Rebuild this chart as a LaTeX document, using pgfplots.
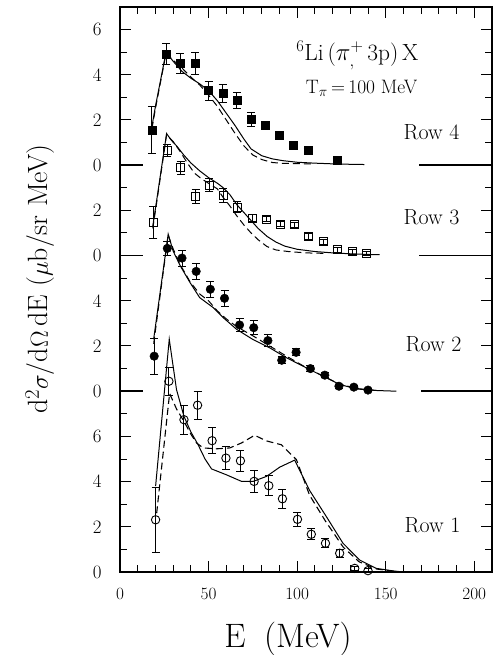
\documentclass[border=0pt]{standalone}
\usepackage{pgfplots}
\usepackage{pgfplotstable}
\pgfplotsset{compat=1.18}

% ---------- data (values per row, offsets added when plotting) ----------
% Row 4 (offset 18) filled squares
\pgfplotstableread{
E v e
18 1.55 1.05
26 4.92 0.48
34 4.50 0.45
42.5 4.50 0.48
50 3.30 0.42
58 3.18 0.40
66 2.87 0.36
74 2.02 0.30
82 1.79 0.12
90 1.31 0.10
98 0.90 0.10
106 0.65 0.08
122.5 0.20 0.08
}\rowfour
\pgfplotstableread{
E v
18 1.7
20 2.6
26 5.0
30 4.6
35 4.15
40 3.85
45 3.6
50 3.3
55 2.85
60 2.3
65 1.75
70 1.15
74 0.72
80 0.42
86 0.28
92 0.2
100 0.13
110 0.09
120 0.06
130 0.04
138 0.03
}\rowfourS
\pgfplotstableread{
E v
18 1.6
20 2.5
26 4.95
30 4.65
35 4.3
40 3.9
45 3.55
50 3.1
55 2.6
60 2.0
65 1.4
70 0.85
75 0.45
80 0.25
86 0.12
92 0.08
100 0.07
110 0.05
}\rowfourD
% Row 3 (offset 14) open squares
\pgfplotstableread{
E v e
18.8 1.47 0.70
26.7 4.65 0.25
34.2 3.88 0.30
42.7 2.62 0.30
50.4 3.12 0.30
58.3 2.65 0.30
66.1 2.14 0.25
74.8 1.66 0.15
82.7 1.62 0.12
90.6 1.39 0.12
98.6 1.36 0.12
106.5 0.85 0.12
115 0.61 0.10
123 0.25 0.10
131 0.17 0.10
139 0.10 0.10
}\rowthree
\pgfplotstableread{
E v
18.5 1.3
21 2.6
26.3 5.4
29 5.1
32 4.85
36 4.45
40 4.1
45 3.75
50 3.45
55 3.2
58 3.02
62 2.7
66 2.25
70 1.9
74 1.55
78 1.2
83 0.85
88 0.6
93 0.42
100 0.28
110 0.18
120 0.12
130 0.08
140 0.05
146.5 0.04
}\rowthreeS
\pgfplotstableread{
E v
18.5 1.2
21 2.5
26.3 5.35
30 5.05
34 4.6
38 4.1
42 3.65
46 3.4
50 3.2
55 2.95
58 2.6
62 2.2
66 1.75
70 1.35
74 1.0
78 0.7
83 0.4
88 0.25
95 0.18
105 0.12
115 0.1
}\rowthreeD
% Row 2 (offset 8) filled circles
\pgfplotstableread{
E v e
19.3 1.55 0.80
26.7 6.32 0.30
35 5.89 0.35
43 5.30 0.37
51 4.51 0.35
59 4.11 0.35
67.5 2.93 0.30
75.5 2.81 0.30
83.5 2.24 0.25
91.3 1.37 0.15
99.4 1.72 0.15
107.5 1.0 0.12
115.6 0.71 0.10
123.6 0.22 0.10
132 0.18 0.08
140 0.05 0.08
}\rowtwo
\pgfplotstableread{
E v
19 2.3
27.2 6.95
30 6.2
34 5.55
39.5 4.81
45 4.14
52.6 3.70
58.2 3.26
65.8 2.74
75 2.29
84.5 1.92
94 1.48
105 1.04
116.5 0.59
124 0.30
133.4 0.10
145 0.03
156 0.0
}\rowtwoS
\pgfplotstableread{
E v
19 2.1
27.2 6.9
30 6.3
34 5.6
39.5 4.85
45 4.3
50 4.0
55 3.55
60 3.2
66 2.85
75 2.45
84.5 2.0
94 1.55
105 1.05
116.5 0.6
124 0.32
133.4 0.12
145 0.03
}\rowtwoD
% Row 1 (offset 0) open circles
\pgfplotstableread{
E v e
20.1 2.31 1.45
27.6 8.44 0.62
36.1 6.74 0.65
43.8 7.38 0.63
52.0 5.81 0.58
59.8 5.04 0.52
68.0 4.92 0.48
75.7 4.01 0.47
84.0 3.82 0.45
91.7 3.24 0.42
100.2 2.33 0.30
108 1.67 0.25
116 1.27 0.20
124 0.83 0.18
132.5 0.16 0.10
140 0.06 0.08
}\rowone
\pgfplotstableread{
E v
20.1 3.8
27.8 10.3
31.9 8.07
36.1 6.89
40 6.2
44.1 5.63
48 5.0
51.7 4.56
60.1 4.30
68.6 4.01
75.2 4.01
82.7 4.23
90.2 4.64
98.6 4.95
107.1 3.6
116.5 2.45
125.9 1.27
135.3 0.53
144.7 0.16
154 0.05
160 0.0
}\rowoneS
\pgfplotstableread{
E v
20.7 2.6
28 7.9
32 7.2
36.1 6.67
40 6.1
43.2 5.71
47 5.49
54.5 5.45
62 5.49
68.6 5.71
76 6.05
82.7 5.8
91.1 5.63
99.6 4.97
107 3.4
116 2.25
126 1.1
135 0.45
145 0.13
155 0.03
}\rowoneD

\begin{document}
\begin{tikzpicture}
\begin{axis}[
  at={(0,0)}, anchor=south west,
  scale only axis, width=372bp, height=565bp,
  xmin=0, xmax=210, ymin=0, ymax=25,
  xtick={0,50,100,150,200},
  minor xtick={10,20,30,40,60,70,80,90,110,120,130,140,160,170,180,190},
  ytick={0,2,...,24},
  yticklabels={0,2,4,6,0,2,4,0,2,0,2,4,6},
  minor ytick={1,3,...,25},
  tick align=inside,
  major tick length=11bp, minor tick length=7bp,
  axis line style={line width=1.6bp},
  every tick/.style={black, line width=1bp},
  ticklabel style={font=\fontsize{19}{19}\selectfont},
  yticklabel style={xshift=-15bp},
  xticklabel style={yshift=-13bp},
  xlabel={E\hspace{0.55em}(MeV)},
  xlabel style={font=\fontsize{34}{34}\selectfont, at={(axis description cs:0.4516,0)}, anchor=base, yshift=-75bp, inner sep=0pt},
  ylabel={d$^2\sigma$/d$\Omega$\,dE\ ($\mu$b/sr MeV)},
  ylabel style={font=\fontsize{28}{28}\selectfont, at={(axis description cs:-0.1747,0.518)}, anchor=south, inner sep=0pt},
  clip=false,
]
% baseline segments
\addplot[black, line width=1.5bp] coordinates {(0,18) (13,18)};
\addplot[black, line width=1.5bp] coordinates {(169,18) (210,18)};
\addplot[black, line width=1.5bp] coordinates {(0,14) (13,14)};
\addplot[black, line width=1.5bp] coordinates {(169,14) (210,14)};
\addplot[black, line width=1.5bp] coordinates {(0,8) (13,8)};
\addplot[black, line width=1.5bp] coordinates {(170,8) (210,8)};

% theory curves
\addplot[black, line width=1bp] table[x=E, y expr=\thisrow{v}+18] \rowfourS;
\addplot[black, line width=1bp, dash pattern=on 7bp off 4bp] table[x=E, y expr=\thisrow{v}+18] \rowfourD;
\addplot[black, line width=1bp] table[x=E, y expr=\thisrow{v}+14] \rowthreeS;
\addplot[black, line width=1bp, dash pattern=on 7bp off 4bp] table[x=E, y expr=\thisrow{v}+14] \rowthreeD;
\addplot[black, line width=1bp] table[x=E, y expr=\thisrow{v}+8] \rowtwoS;
\addplot[black, line width=1bp, dash pattern=on 7bp off 4bp] table[x=E, y expr=\thisrow{v}+8] \rowtwoD;
\addplot[black, line width=1bp] table[x=E, y expr=\thisrow{v}] \rowoneS;
\addplot[black, line width=1.1bp, dash pattern=on 7bp off 4bp] table[x=E, y expr=\thisrow{v}] \rowoneD;

% data
\pgfplotsset{errstyle/.style={error bars/.cd, y dir=both, y explicit,
   error bar style={line width=0.9bp, black},
   error mark options={rotate=90, mark size=4bp, line width=0.9bp, black}}}
\addplot[only marks, mark=square*, mark size=4bp, black, errstyle] table[x=E, y expr=\thisrow{v}+18, y error=e] \rowfour;
\addplot[only marks, mark=square, mark size=4bp, black, mark options={line width=0.9bp}, errstyle] table[x=E, y expr=\thisrow{v}+14, y error=e] \rowthree;
\addplot[only marks, mark=*, mark size=4.3bp, black, errstyle] table[x=E, y expr=\thisrow{v}+8, y error=e] \rowtwo;
\addplot[only marks, mark=o, mark size=4.2bp, black, mark options={line width=0.9bp}, errstyle] table[x=E, y expr=\thisrow{v}, y error=e] \rowone;

% texts
\node[font=\fontsize{23.5}{23.5}\selectfont] at (axis cs:134,22.85) {\textsuperscript{6}Li\,($\pi^{+}_{,}$\,3p)\,X};
\node[font=\fontsize{19.5}{19.5}\selectfont] at (axis cs:136.4,21.38) {T$_\pi$\,=\,100 MeV};
\node[font=\fontsize{22}{22}\selectfont] at (axis cs:175.9,19.48) {Row 4};
\node[font=\fontsize{22}{22}\selectfont] at (axis cs:175.9,15.7) {Row 3};
\node[font=\fontsize{22}{22}\selectfont] at (axis cs:177,10.07) {Row 2};
\node[font=\fontsize{22}{22}\selectfont] at (axis cs:176.4,2.09) {Row 1};
\end{axis}
\pgfresetboundingbox
\path (-120bp,-83bp) rectangle (377bp,572bp);
\end{tikzpicture}
\end{document}
